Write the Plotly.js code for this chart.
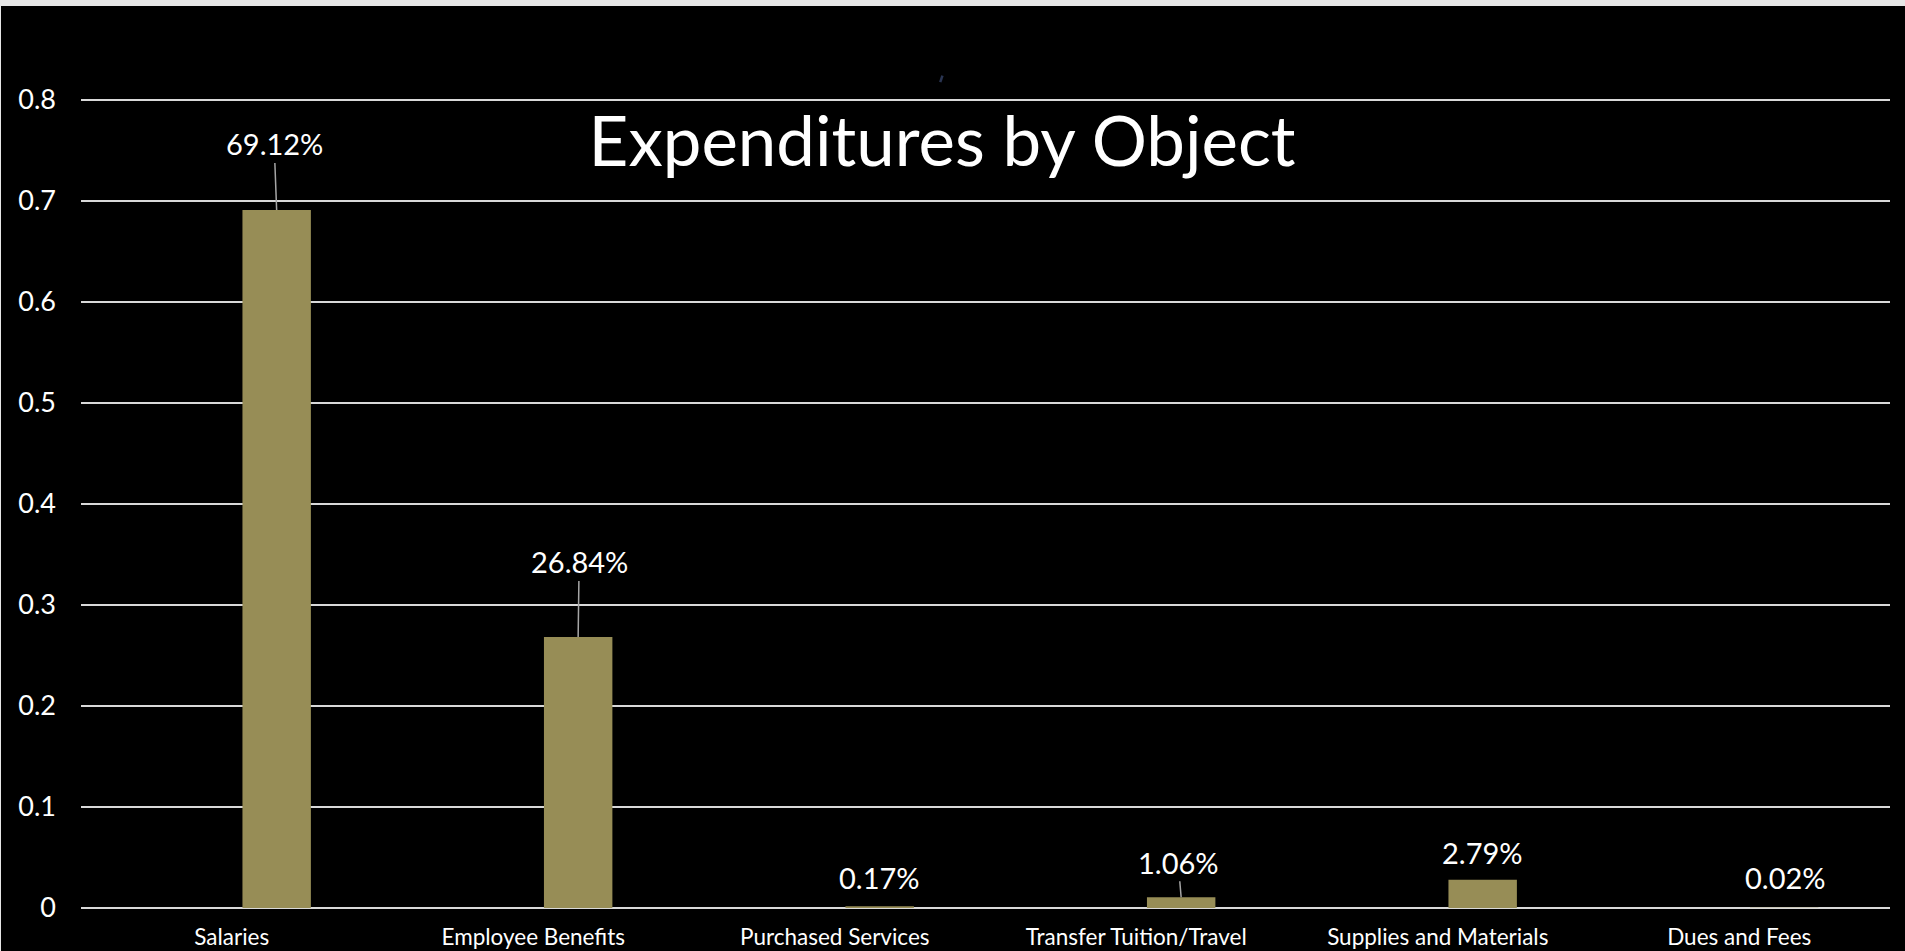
<!DOCTYPE html>
<html>
<head>
<meta charset="utf-8">
<script src="https://cdn.plot.ly/plotly-3.0.1.min.js"></script>
<style>
  html, body { margin: 0; padding: 0; background: #e6e6e6; overflow: hidden; }
  #chart { position: absolute; left: 1px; top: 6px; width: 1904px; height: 945px; background: #000; }
</style>
</head>
<body>
<div id="chart"></div>
<script>
// Data
const categories = ["Salaries", "Employee Benefits", "Purchased Services", "Transfer Tuition/Travel", "Supplies and Materials", "Dues and Fees"];
const shares = [0.6912, 0.2684, 0.0017, 0.0106, 0.0279, 0.0002];
const shareLabels = ["69.12%", "26.84%", "0.17%", "1.06%", "2.79%", "0.02%"];
const yTicks = [0, 0.1, 0.2, 0.3, 0.4, 0.5, 0.6, 0.7, 0.8];

// label styling (pixel offsets, leader-line visibility)
const labelOffsetX = [-2.5, 1, 0, -3, 0, 1];
const labelOffsetY = [-66, -75, -28.5, -35, -27, -30];
const showLeader = [true, true, false, true, false, false];

const FONT = "Lato, 'Open Sans', sans-serif";
const BAR_WIDTH = 0.227;
const BAR_OFFSET = 0.0355;
const BAND_PX = 301.3;

const trace = {
  type: "bar",
  x: categories,
  y: shares,
  width: BAR_WIDTH,
  offset: BAR_OFFSET,
  marker: { color: "#978D56", line: { width: 0 } },
  hoverinfo: "x+y"
};

const annotations = categories.map((c, i) => ({
  x: c,
  y: shares[i],
  xref: "x",
  yref: "y",
  text: shareLabels[i],
  showarrow: true,
  arrowhead: 0,
  arrowwidth: 1.5,
  arrowcolor: showLeader[i] ? "#a6a6a6" : "rgba(0,0,0,0)",
  standoff: 0,
  ax: labelOffsetX[i],
  ay: labelOffsetY[i],
  axref: "pixel",
  ayref: "pixel",
  xshift: (BAR_OFFSET + BAR_WIDTH / 2) * BAND_PX,
  font: { family: FONT, size: 29, color: "#ffffff" }
}));

const layout = {
  width: 1904,
  height: 945,
  paper_bgcolor: "#000000",
  plot_bgcolor: "#000000",
  margin: { l: 80, r: 15, t: 91.5, b: 43, pad: 0 },
  showlegend: false,
  title: {
    text: "Expenditures by Object",
    font: { family: FONT, size: 69, color: "#ffffff" },
    xref: "paper",
    x: 0.476,
    xanchor: "center",
    yref: "container",
    y: 0.856,
    yanchor: "middle"
  },
  xaxis: {
    type: "category",
    showgrid: false,
    showline: false,
    ticks: "",
    zeroline: false,
    tickfont: { family: FONT, size: 22.5, color: "#ffffff" },
    ticklabelstandoff: 13,
    fixedrange: true
  },
  yaxis: {
    range: [0, 0.802],
    tickvals: yTicks,
    showgrid: true,
    gridcolor: "#d9d9d9",
    gridwidth: 2,
    zeroline: true,
    zerolinecolor: "#d9d9d9",
    zerolinewidth: 2.5,
    showline: false,
    ticks: "",
    tickfont: { family: FONT, size: 27, color: "#ffffff" },
    ticklabelstandoff: 24,
    fixedrange: true
  },
  shapes: [
    // stray dark mark near the top of the original
    { type: "line", xref: "paper", yref: "paper",
      x0: 0.4762, y0: 1.0275, x1: 0.4750, y1: 1.0195,
      line: { color: "#2a3552", width: 2.5 } }
  ],
  annotations: annotations
};

Plotly.newPlot("chart", [trace], layout, { displayModeBar: false, staticPlot: true });
</script>
</body>
</html>
